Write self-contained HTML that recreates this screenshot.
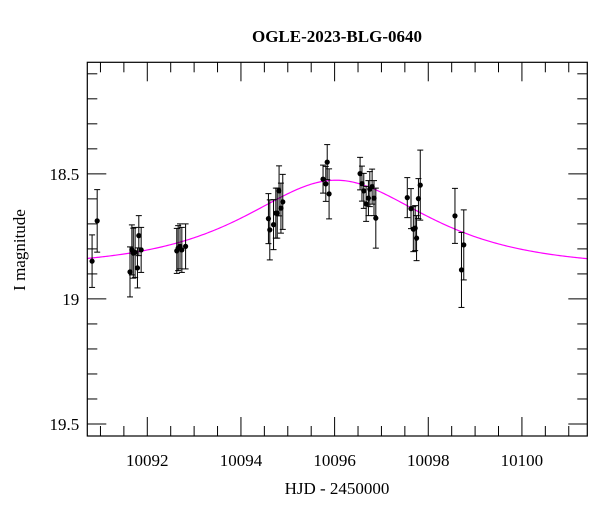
<!DOCTYPE html>
<html><head><meta charset="utf-8">
<style>
html,body{margin:0;padding:0;background:#fff;}
svg{display:block;font-family:"Liberation Serif",serif;}
</style></head>
<body>
<svg id="chart" width="600" height="512" viewBox="0 0 600 512" xmlns="http://www.w3.org/2000/svg">
<text x="337" y="42" text-anchor="middle" font-size="17" font-weight="bold">OGLE-2023-BLG-0640</text>
<text x="337" y="494" text-anchor="middle" font-size="17">HJD - 2450000</text>
<text transform="translate(25,250) rotate(-90)" text-anchor="middle" font-size="17">I magnitude</text>
<g id="ticks"></g>
<g id="model"></g>
<g id="points"></g>
<rect x="87.3" y="62.3" width="500" height="373.7" fill="none" stroke="#000" stroke-width="1.2"/>
</svg>
<script>
const hjd = [10090.821,10090.930,10091.631,10091.671,10091.701,10091.740,10091.790,10091.819,10091.869,
10092.630,10092.659,10092.699,10092.738,10092.818,
10094.587,10094.616,10094.696,10094.745,10094.775,10094.814,10094.854,10094.893,
10095.753,10095.842,10095.812,10095.882,
10096.544,10096.584,10096.623,10096.673,10096.722,10096.752,10096.801,10096.841,10096.880,
10097.552,10097.631,10097.681,10097.720,10097.750,10097.790,10097.829,
10098.570,10098.709,10098.758];
const mag = [18.849,18.688,18.892,18.804,18.817,18.814,18.876,18.747,18.804,
18.808,18.797,18.790,18.804,18.790,
18.679,18.724,18.703,18.657,18.657,18.568,18.637,18.612,
18.521,18.453,18.540,18.580,
18.499,18.539,18.568,18.620,18.597,18.561,18.551,18.597,18.677,
18.595,18.639,18.721,18.717,18.757,18.599,18.545,
18.668,18.884,18.784];
const magErr = [0.105,0.125,0.10,0.10,0.10,0.10,0.08,0.08,0.09,
0.09,0.09,0.09,0.09,0.09,
0.10,0.12,0.10,0.10,0.10,0.10,0.10,0.11,
0.056,0.07,0.07,0.10,
0.065,0.07,0.07,0.07,0.07,0.07,0.07,0.07,0.12,
0.08,0.08,0.09,0.09,0.09,0.08,0.14,
0.11,0.15,0.14];
const xTickLabels = [10092,10094,10096,10098,10100];
const yTickLabels = [18.5,19,19.5];
const modelT0 = 10096.03, modelU0 = 0.95, modelTE = 2.4, modelBase = 18.875;

const NS="http://www.w3.org/2000/svg";
const X0=87.3,X1=587.3,Y0=62.3,Y1=436;
const xMin=10090.719,xMax=10101.396,yMin=18.054,yMax=19.548;
const xs=v=>X0+(v-xMin)/(xMax-xMin)*(X1-X0);
const ys=v=>Y0+(v-yMin)/(yMax-yMin)*(Y1-Y0);
function mk(tag,attrs,parent){const e=document.createElementNS(NS,tag);for(const k in attrs)e.setAttribute(k,attrs[k]);parent.appendChild(e);return e;}

const tg=document.getElementById('ticks');
for(let v=10091;v<=10101.4;v+=0.5){
  const major=Math.abs(v%2)<1e-6;const len=major?19:10;const x=xs(v);
  const a=mk('line',{x1:x,x2:x,y1:Y1,y2:Y1-len,stroke:'#000','stroke-width':1},tg);
  
  
  const b=mk('line',{x1:x,x2:x,y1:Y0,y2:Y0+len,stroke:'#000','stroke-width':1},tg);
  
  
}
xTickLabels.forEach(v=>{
  const t=mk('text',{x:xs(v),y:Y1+30,'text-anchor':'middle','font-size':17},tg);
  
  
  t.textContent=v;
});
for(let i=1;i<=15;i++){
  const v=18+i*0.1;if(v>yMax)break;
  const major=(i%5===0);const len=major?19:10;const y=ys(v);
  const a=mk('line',{x1:X0,x2:X0+len,y1:y,y2:y,stroke:'#000','stroke-width':1},tg);
  
  
  const b=mk('line',{x1:X1,x2:X1-len,y1:y,y2:y,stroke:'#000','stroke-width':1},tg);
  
  
}
yTickLabels.forEach(v=>{
  const t=mk('text',{x:X0-8,y:ys(v)+6,'text-anchor':'end','font-size':17},tg);
  
  
  t.textContent=String(v);
});

const mg=document.getElementById('model');
let d='';
for(let i=0;i<=300;i++){
  const t=xMin+(xMax-xMin)*i/300;
  const tau=(t-modelT0)/modelTE;const u=Math.sqrt(tau*tau+modelU0*modelU0);
  const A=(u*u+2)/(u*Math.sqrt(u*u+4));
  const m=modelBase-2.5*Math.log10(A);
  d+=(i?'L':'M')+xs(t).toFixed(2)+' '+ys(m).toFixed(2);
}
const mp=mk('path',{d:d,fill:'none',stroke:'#ff00ff','stroke-width':1.2},mg);



const pg=document.getElementById('points');
hjd.forEach((t,i)=>{
  const x=xs(t),y=ys(mag[i]),y1=ys(mag[i]-magErr[i]),y2=ys(mag[i]+magErr[i]);
  const g=mk('g',{stroke:'#000','stroke-width':1},pg);
  
  
  mk('line',{x1:x,x2:x,y1:y1,y2:y2},g);
  mk('line',{x1:x-3,x2:x+3,y1:y1,y2:y1},g);
  mk('line',{x1:x-3,x2:x+3,y1:y2,y2:y2},g);
  mk('circle',{cx:x,cy:y,r:2.6,fill:'#000',stroke:'none'},g);
});
</script>
</body></html>
